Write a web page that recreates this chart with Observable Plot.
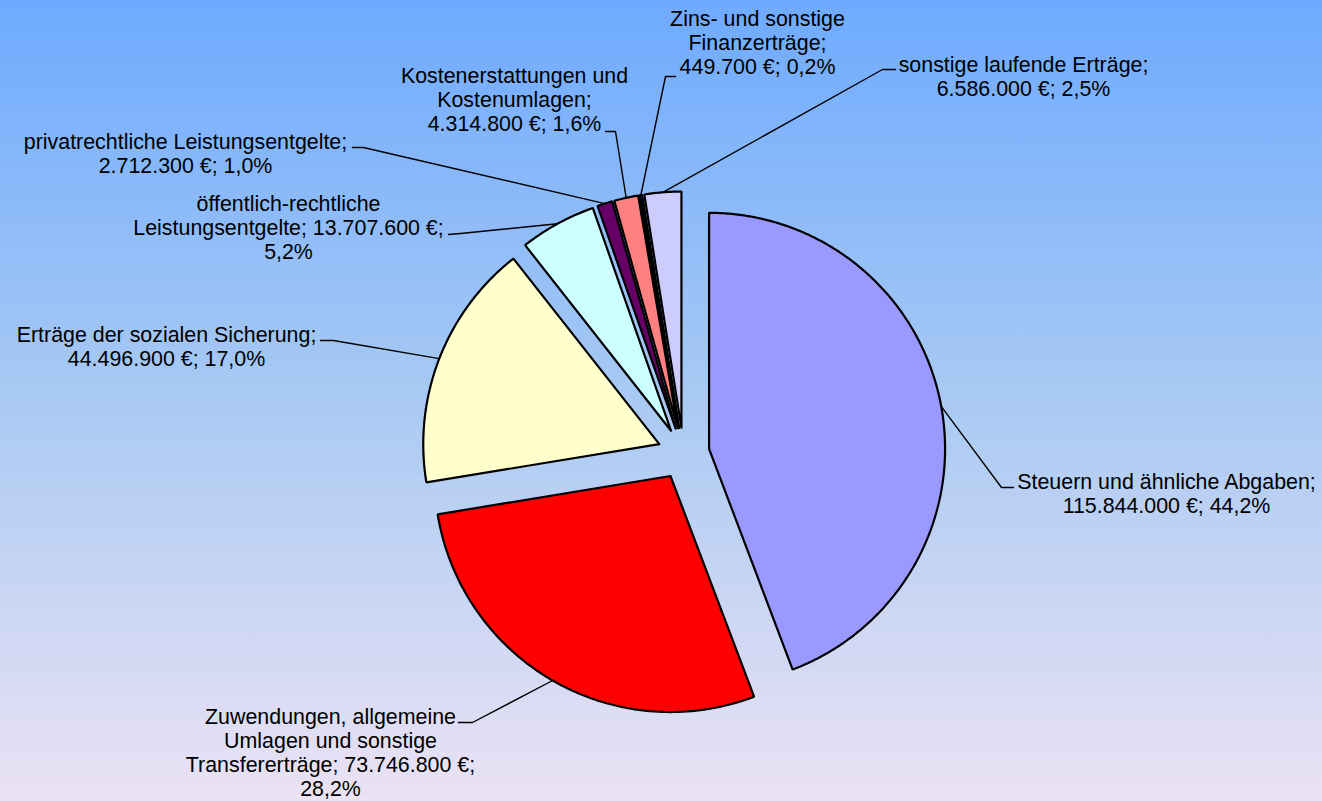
<!DOCTYPE html>
<html>
<head>
<meta charset="utf-8">
<script src="https://cdn.jsdelivr.net/npm/d3@7"></script>
<script src="https://cdn.jsdelivr.net/npm/@observablehq/plot@0.6"></script>
<style>
  html, body { margin: 0; padding: 0; overflow: hidden; }
  body { width: 1322px; height: 801px; background: linear-gradient(to bottom, #6EAAFF 0%, #A9CAF3 50%, #EBE2F4 100%); }
</style>
</head>
<body>
<div id="chart"></div>
<script>
// ---- data ----
const categories = [
  "Steuern und ähnliche Abgaben",
  "Zuwendungen, allgemeine Umlagen und sonstige Transfererträge",
  "Erträge der sozialen Sicherung",
  "öffentlich-rechtliche Leistungsentgelte",
  "privatrechtliche Leistungsentgelte",
  "Kostenerstattungen und Kostenumlagen",
  "Zins- und sonstige Finanzerträge",
  "sonstige laufende Erträge"
];
const values = [115844000, 73746800, 44496900, 13707600, 2712300, 4314800, 449700, 6586000];
const colors = ["#9999FF", "#FF0000", "#FFFFCC", "#CCFFFF", "#660066", "#FF8080", "#000066", "#CCCCFF"];

// ---- layout (not data) ----
const pieLayout = {cx: 683, cy: 453, r: 236, explode: 26};
const wordsPerLine = [[4, 3], [2, 3, 3, 1], [4, 3], [1, 3, 1], [2, 3], [2, 1, 3], [3, 1, 3], [3, 3]];
const labelAt = [[1166, 493], [330, 752], [166, 346], [288, 227], [185, 153], [514, 99], [757, 42], [1023, 76]];
const elbowAt = [[1001, 487], [472, 722], [333, 340], [460, 233], [363, 147], [615, 131], [665, 76], [882, 69]];
const tailAt = [[1013, 487], [458, 722], [320, 340], [448, 234], [352, 147], [605, 131], [675, 76], [895, 69]];

const de = d3.formatLocale({decimal: ",", thousands: ".", grouping: [3], currency: ["", " €"]});
const fmtInt = de.format(",d");
const total = d3.sum(values);

// slices
const slicePts = [];
const leaderPts = [];
const labels = [];
let acc = 0;
categories.forEach((name, i) => {
  const a0 = acc / total * 2 * Math.PI;
  acc += values[i];
  const a1 = acc / total * 2 * Math.PI;
  const mid = (a0 + a1) / 2;
  const ax = pieLayout.cx + pieLayout.explode * Math.sin(mid);
  const ay = pieLayout.cy - pieLayout.explode * Math.cos(mid);
  slicePts.push({name, x: ax, y: ay});
  const steps = Math.max(2, Math.ceil((a1 - a0) / (Math.PI / 360)));
  for (let k = 0; k <= steps; k++) {
    const a = a0 + (a1 - a0) * k / steps;
    slicePts.push({name, x: ax + pieLayout.r * Math.sin(a), y: ay - pieLayout.r * Math.cos(a)});
  }
  slicePts.push({name, x: ax, y: ay});
  // leader line
  leaderPts.push({name, x: ax + pieLayout.r * Math.sin(mid), y: ay - pieLayout.r * Math.cos(mid)});
  leaderPts.push({name, x: elbowAt[i][0], y: elbowAt[i][1]});
  leaderPts.push({name, x: tailAt[i][0], y: tailAt[i][1]});
  // label text
  const pct = (values[i] / total * 100).toFixed(1).replace(".", ",");
  const words = `${name}; ${fmtInt(values[i])} €; ${pct}%`.split(" ");
  const lines = [];
  let w = 0;
  for (const n of wordsPerLine[i]) { lines.push(words.slice(w, w + n).join(" ")); w += n; }
  labels.push({name, text: lines.join("\n"), x: labelAt[i][0], y: labelAt[i][1]});
});

const chart = Plot.plot({
  width: 1322,
  height: 801,
  margin: 0,
  x: {domain: [0, 1322], range: [0, 1322], axis: null},
  y: {domain: [0, 801], range: [0, 801], axis: null},
  color: {domain: categories, range: colors},
  style: {background: "transparent", overflow: "visible"},
  marks: [
    Plot.line(leaderPts, {x: "x", y: "y", z: "name", stroke: "black", strokeWidth: 1.4, curve: "linear"}),
    Plot.line(slicePts, {x: "x", y: "y", z: "name", fill: "name", stroke: "black", strokeWidth: 2.2, strokeLinejoin: "miter", curve: "linear"}),
    Plot.text(labels, {x: "x", y: "y", text: "text", fontSize: 21.4, lineHeight: 1.12, fontFamily: "Liberation Sans, Arial, sans-serif", fill: "black", textAnchor: "middle", lineAnchor: "middle"})
  ]
});
document.getElementById("chart").appendChild(chart);
</script>
</body>
</html>
